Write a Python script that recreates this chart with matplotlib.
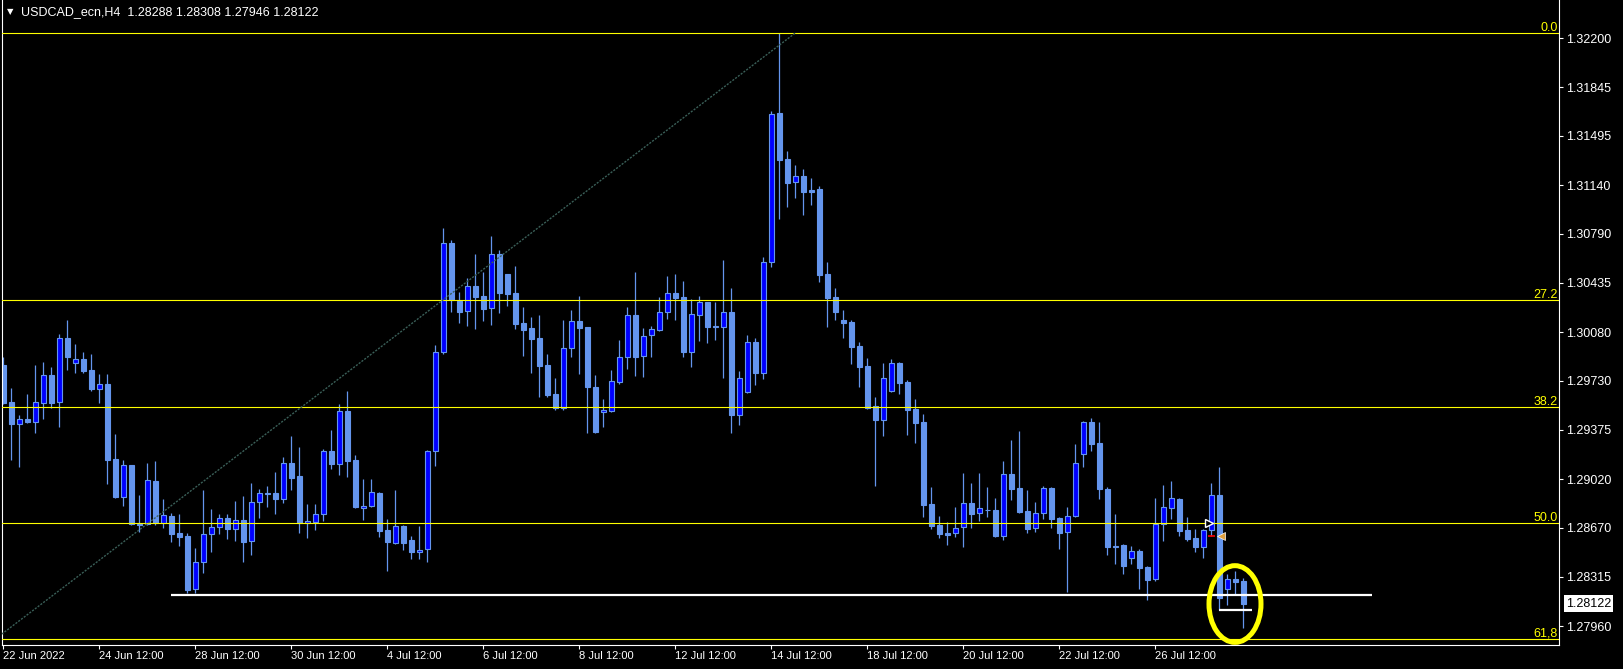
import matplotlib.pyplot as plt
import matplotlib.transforms as mtransforms
import numpy as np
from matplotlib import font_manager
from matplotlib.patches import Ellipse

# USDCAD_ecn H4 - svicky (open, high, low, close)
opens = [1.29842, 1.29576, 1.29419, 1.29453, 1.29434, 1.29571, 1.29768, 1.29578, 1.30035, 1.29855,
         1.29883, 1.29806, 1.29671, 1.29705, 1.29165, 1.28888, 1.29121, 1.28696, 1.28694, 1.29006,
         1.28701, 1.28754, 1.28629, 1.28609, 1.28225, 1.28424, 1.28622, 1.28676, 1.28737, 1.28662,
         1.28725, 1.28571, 1.28852, 1.28917, 1.28917, 1.28878, 1.29134, 1.29042, 1.28701, 1.28708,
         1.28766, 1.29220, 1.29126, 1.29509, 1.29155, 1.28813, 1.28824, 1.28917, 1.28653, 1.28561,
         1.28679, 1.28581, 1.28496, 1.28514, 1.29220, 1.29934, 1.30720, 1.30304, 1.30230, 1.30412,
         1.30340, 1.30251, 1.30643, 1.30499, 1.30362, 1.30145, 1.30109, 1.30037, 1.29842, 1.29633,
         1.29530, 1.29963, 1.30157, 1.30116, 1.29684, 1.29501, 1.29509, 1.29722, 1.29898, 1.30201,
         1.29904, 1.30056, 1.30097, 1.30222, 1.30362, 1.30330, 1.29938, 1.30201, 1.30294, 1.30121,
         1.30118, 1.30225, 1.29480, 1.29646, 1.30006, 1.29787, 1.30583, 1.31659, 1.31328, 1.31164,
         1.31205, 1.31104, 1.31111, 1.30499, 1.30333, 1.30167, 1.30152, 1.29979, 1.29835, 1.29547,
         1.29448, 1.29653, 1.29857, 1.29720, 1.29525, 1.29431, 1.28840, 1.28689, 1.28631, 1.28629,
         1.28672, 1.28847, 1.28773, 1.28795, 1.28797, 1.28607, 1.29057, 1.28956, 1.28790, 1.28665,
         1.28773, 1.28956, 1.28739, 1.28636, 1.28752, 1.29199, 1.29431, 1.29280, 1.28947, 1.28540,
         1.28542, 1.28449, 1.28501, 1.28388, 1.28302, 1.28694, 1.28813, 1.28876, 1.28653, 1.28595,
         1.28532, 1.28653, 1.28903, 1.28230, 1.28297, 1.28288]
highs = [1.29900, 1.29674, 1.29482, 1.29633, 1.29842, 1.29864, 1.29828, 1.30066, 1.30167, 1.29994,
         1.29936, 1.29922, 1.29775, 1.29777, 1.29345, 1.29157, 1.29121, 1.28905, 1.29136, 1.29150,
         1.28876, 1.28777, 1.28768, 1.28631, 1.28521, 1.28941, 1.28802, 1.28768, 1.28768, 1.28862,
         1.28898, 1.28994, 1.28946, 1.28970, 1.29071, 1.29179, 1.29330, 1.29251, 1.28838, 1.28838,
         1.29237, 1.29374, 1.29561, 1.29655, 1.29193, 1.29018, 1.29018, 1.28929, 1.28732, 1.28941,
         1.28687, 1.28609, 1.28682, 1.29232, 1.29987, 1.30828, 1.30744, 1.30369, 1.30468, 1.30643,
         1.30513, 1.30772, 1.30672, 1.30499, 1.30556, 1.30258, 1.30188, 1.30201, 1.29922, 1.29749,
         1.30167, 1.30239, 1.30340, 1.30116, 1.29770, 1.29597, 1.29806, 1.30023, 1.30258, 1.30513,
         1.30109, 1.30124, 1.30333, 1.30484, 1.30499, 1.30448, 1.30318, 1.30340, 1.30294, 1.30294,
         1.30599, 1.30398, 1.29799, 1.30059, 1.30037, 1.30621, 1.31672, 1.32236, 1.31385, 1.31284,
         1.31256, 1.31191, 1.31133, 1.30585, 1.30398, 1.30239, 1.30167, 1.30008, 1.29893, 1.29612,
         1.29857, 1.29886, 1.29864, 1.29734, 1.29597, 1.29489, 1.28963, 1.28754, 1.28710, 1.28819,
         1.29064, 1.28992, 1.29064, 1.28963, 1.28883, 1.29150, 1.29302, 1.29367, 1.28941, 1.28855,
         1.28970, 1.28961, 1.28746, 1.28819, 1.29273, 1.29439, 1.29460, 1.29431, 1.28966, 1.28768,
         1.28554, 1.28537, 1.28516, 1.28393, 1.28881, 1.28977, 1.29006, 1.28883, 1.28744, 1.28660,
         1.28660, 1.28989, 1.29107, 1.28333, 1.28355, 1.28308]
lows = [1.29561, 1.29157, 1.29109, 1.29426, 1.29354, 1.29455, 1.29535, 1.29398, 1.29806, 1.29787,
        1.29787, 1.29657, 1.29571, 1.28987, 1.28886, 1.28828, 1.28689, 1.28636, 1.28690, 1.28689,
        1.28669, 1.28568, 1.28537, 1.28196, 1.28196, 1.28345, 1.28492, 1.28622, 1.28590, 1.28576,
        1.28424, 1.28475, 1.28737, 1.28819, 1.28766, 1.28850, 1.28941, 1.28633, 1.28597, 1.28653,
        1.28720, 1.29093, 1.29049, 1.29037, 1.28813, 1.28725, 1.28816, 1.28604, 1.28359, 1.28552,
        1.28509, 1.28446, 1.28446, 1.28424, 1.29116, 1.29925, 1.30227, 1.30147, 1.30124, 1.30104,
        1.30162, 1.30133, 1.30219, 1.30268, 1.30104, 1.29909, 1.29787, 1.29614, 1.29614, 1.29518,
        1.29518, 1.29902, 1.29778, 1.29350, 1.29354, 1.29398, 1.29505, 1.29708, 1.29816, 1.29765,
        1.29759, 1.29902, 1.30087, 1.30176, 1.30169, 1.29902, 1.29830, 1.30018, 1.30003, 1.30025,
        1.29751, 1.29354, 1.29412, 1.29640, 1.29700, 1.29744, 1.30551, 1.30897, 1.30984, 1.31049,
        1.30926, 1.30996, 1.30443, 1.30118, 1.30167, 1.30039, 1.29852, 1.29686, 1.29523, 1.28972,
        1.29333, 1.29645, 1.29635, 1.29340, 1.29282, 1.28749, 1.28662, 1.28597, 1.28547, 1.28604,
        1.28532, 1.28669, 1.28720, 1.28749, 1.28605, 1.28583, 1.28871, 1.28777, 1.28633, 1.28640,
        1.28734, 1.28669, 1.28518, 1.28208, 1.28744, 1.29109, 1.29224, 1.28878, 1.28475, 1.28410,
        1.28338, 1.28410, 1.28230, 1.28150, 1.28287, 1.28576, 1.28730, 1.28612, 1.28573, 1.28496,
        1.28453, 1.28609, 1.28076, 1.28114, 1.28191, 1.27946]
closes = [1.29568, 1.29419, 1.29453, 1.29434, 1.29573, 1.29768, 1.29571, 1.30035, 1.29902, 1.29883,
          1.29801, 1.29669, 1.29703, 1.29160, 1.28891, 1.29121, 1.28694, 1.28691, 1.29011, 1.28701,
          1.28759, 1.28626, 1.28602, 1.28222, 1.28424, 1.28622, 1.28672, 1.28737, 1.28662, 1.28723,
          1.28568, 1.28852, 1.28917, 1.28912, 1.28878, 1.29134, 1.29030, 1.28705, 1.28715, 1.28766,
          1.29220, 1.29131, 1.29509, 1.29152, 1.28821, 1.28826, 1.28924, 1.28648, 1.28568, 1.28679,
          1.28561, 1.28496, 1.28509, 1.29222, 1.29934, 1.30720, 1.30311, 1.30227, 1.30410, 1.30335,
          1.30248, 1.30641, 1.30364, 1.30356, 1.30140, 1.30097, 1.30032, 1.29837, 1.29628, 1.29530,
          1.29963, 1.30157, 1.30111, 1.29686, 1.29359, 1.29516, 1.29725, 1.29898, 1.30201, 1.29902,
          1.30049, 1.30100, 1.30222, 1.30359, 1.30328, 1.29938, 1.30208, 1.30294, 1.30114, 1.30114,
          1.30222, 1.29480, 1.29746, 1.30006, 1.29787, 1.30583, 1.31650, 1.31320, 1.31157, 1.31205,
          1.31092, 1.31093, 1.30493, 1.30328, 1.30227, 1.30147, 1.29974, 1.29830, 1.29530, 1.29448,
          1.29746, 1.29855, 1.29715, 1.29520, 1.29426, 1.28835, 1.28684, 1.28626, 1.28619, 1.28665,
          1.28845, 1.28770, 1.28811, 1.28797, 1.28612, 1.29054, 1.28951, 1.28783, 1.28662, 1.28773,
          1.28953, 1.28734, 1.28633, 1.28752, 1.29134, 1.29429, 1.29275, 1.28946, 1.28532, 1.28532,
          1.28395, 1.28499, 1.28381, 1.28294, 1.28694, 1.28816, 1.28881, 1.28648, 1.28588, 1.28532,
          1.28653, 1.28903, 1.28160, 1.28297, 1.28280, 1.28122]

# popisky casove osy (kazdych 12 svicek)
date_ticks = [0, 12, 24, 36, 48, 60, 72, 84, 96, 108, 120, 132, 144]
date_labels = ['22 Jun 2022', '24 Jun 12:00', '28 Jun 12:00', '30 Jun 12:00', '4 Jul 12:00',
               '6 Jul 12:00', '8 Jul 12:00', '12 Jul 12:00', '14 Jul 12:00', '18 Jul 12:00',
               '20 Jul 12:00', '22 Jul 12:00', '26 Jul 12:00']

# cenova osa
price_ticks = [1.32200, 1.31845, 1.31495, 1.31140, 1.30790, 1.30435, 1.30080,
               1.29730, 1.29375, 1.29020, 1.28670, 1.28315, 1.27960]

# Fibonacci
fib_high = 1.32236
fib_low = 1.25170
fib_levels = [0.0, 27.2, 38.2, 50.0, 61.8]
fib_names = ['0.0', '27.2', '38.2', '50.0', '61,8']
trend_x = [-0.2, 99.0]
trend_y = [1.27902, 1.32236]

# podpora a oznaceni
support_price = 1.28186
support_from, support_to = 21.0, 171.1
mark_price = 1.28078
mark_from, mark_to = 152.0, 156.1
circle_x, circle_y = 153.96, 1.28119
circle_w, circle_h = 6.5, 0.00553
arrow_x, arrow_price = 150.7, 1.28703
order_x, order_price = 152.2, 1.28607
last_price = 1.28122

names = {f.name for f in font_manager.fontManager.ttflist}
if 'Liberation Sans Narrow' in names:
    date_font, date_size = 'Liberation Sans Narrow', 9
else:
    date_font, date_size = 'Liberation Sans', 8

W, H = 1623, 669
fig = plt.figure(figsize=(W / 100, H / 100), dpi=100, facecolor='black')
ax = fig.add_axes([2 / W, 24 / H, 1557 / W, 645 / H], facecolor='black')

o = np.array(opens)
h = np.array(highs)
l = np.array(lows)
c = np.array(closes)
x = np.arange(len(o))
up = c >= o

light = '#6495ED'
ax.vlines(x, l, h, colors=light, lw=0.9, zorder=1)
ax.bar(x[up], c[up] - o[up], bottom=o[up], width=0.55, color='#0000FF',
       edgecolor=light, linewidth=0.8, zorder=2)
ax.bar(x[~up], o[~up] - c[~up], bottom=c[~up], width=0.55, color=light,
       edgecolor=light, linewidth=0.8, zorder=2)

# fibo hladiny
for lvl, name in zip(fib_levels, fib_names):
    p = fib_high - lvl / 100 * (fib_high - fib_low)
    ax.axhline(p, color='#FFFF00', lw=0.8, zorder=3)
    tr = mtransforms.offset_copy(mtransforms.blended_transform_factory(ax.transAxes, ax.transData),
                                 fig=fig, y=2, units='dots')
    ax.text(0.9994, p, name, transform=tr, ha='right', va='baseline', color='#FFFF00',
            fontsize=9, family='Liberation Sans', zorder=4)
ax.plot(trend_x, trend_y, color='#3A5F58', ls=(0, (1.5, 1)), lw=1, zorder=3)

ax.hlines(support_price, support_from, support_to, colors='white', lw=1.6, zorder=4)
ax.hlines(mark_price, mark_from, mark_to, colors='white', lw=1.6, zorder=4)
ax.add_patch(Ellipse((circle_x, circle_y), circle_w, circle_h, fill=False,
                     edgecolor='#FFFF00', lw=3.6, zorder=5, clip_on=False))

# obchodni znacky
ax.plot(arrow_x, arrow_price, marker='>', ms=6, mfc='black', mec='white', mew=1, zorder=5)
ax.hlines(order_price, order_x - 1.65, order_x - 0.75, colors='red', lw=1.2, zorder=5)
ax.plot(order_x, order_price, marker='<', ms=6, mfc='#E0A040', mec='white', mew=0.5, zorder=5)

ax.set_xlim(-0.1625, 194.46)
ax.set_ylim(1.278235, 1.32474)

ax.yaxis.tick_right()
ax.set_yticks(price_ticks)
ax.set_yticklabels([f'{v:.5f}' for v in price_ticks], family='Liberation Sans', fontsize=9)
ax.set_xticks(date_ticks)
ax.set_xticklabels(date_labels, family=date_font, fontsize=date_size, ha='left')
ax.tick_params(axis='y', colors='white', length=3, width=0.8, pad=2)
ax.tick_params(axis='x', colors='white', length=3, width=0.8, pad=1)

for s in ['left', 'bottom', 'right']:
    ax.spines[s].set_color('white')
    ax.spines[s].set_linewidth(0.8)
ax.spines['top'].set_visible(False)

# aktualni cena
ax.text(1.0045, last_price, f'{last_price:.5f}',
        transform=mtransforms.blended_transform_factory(ax.transAxes, ax.transData),
        ha='left', va='center', fontsize=9, family='Liberation Sans', color='black',
        bbox=dict(facecolor='white', edgecolor='none', pad=1.5), clip_on=False, zorder=6)

# hlavicka
fig.text(7 / W, 1 - 12 / H, '\u25bc', color='white', fontsize=6, family='DejaVu Sans', va='center')
fig.text(21 / W, 1 - 12.5 / H, 'USDCAD_ecn,H4  1.28288 1.28308 1.27946 1.28122',
         color='white', fontsize=9, family='Liberation Sans', va='center')

fig.savefig('out.png', dpi=100, facecolor='black')
